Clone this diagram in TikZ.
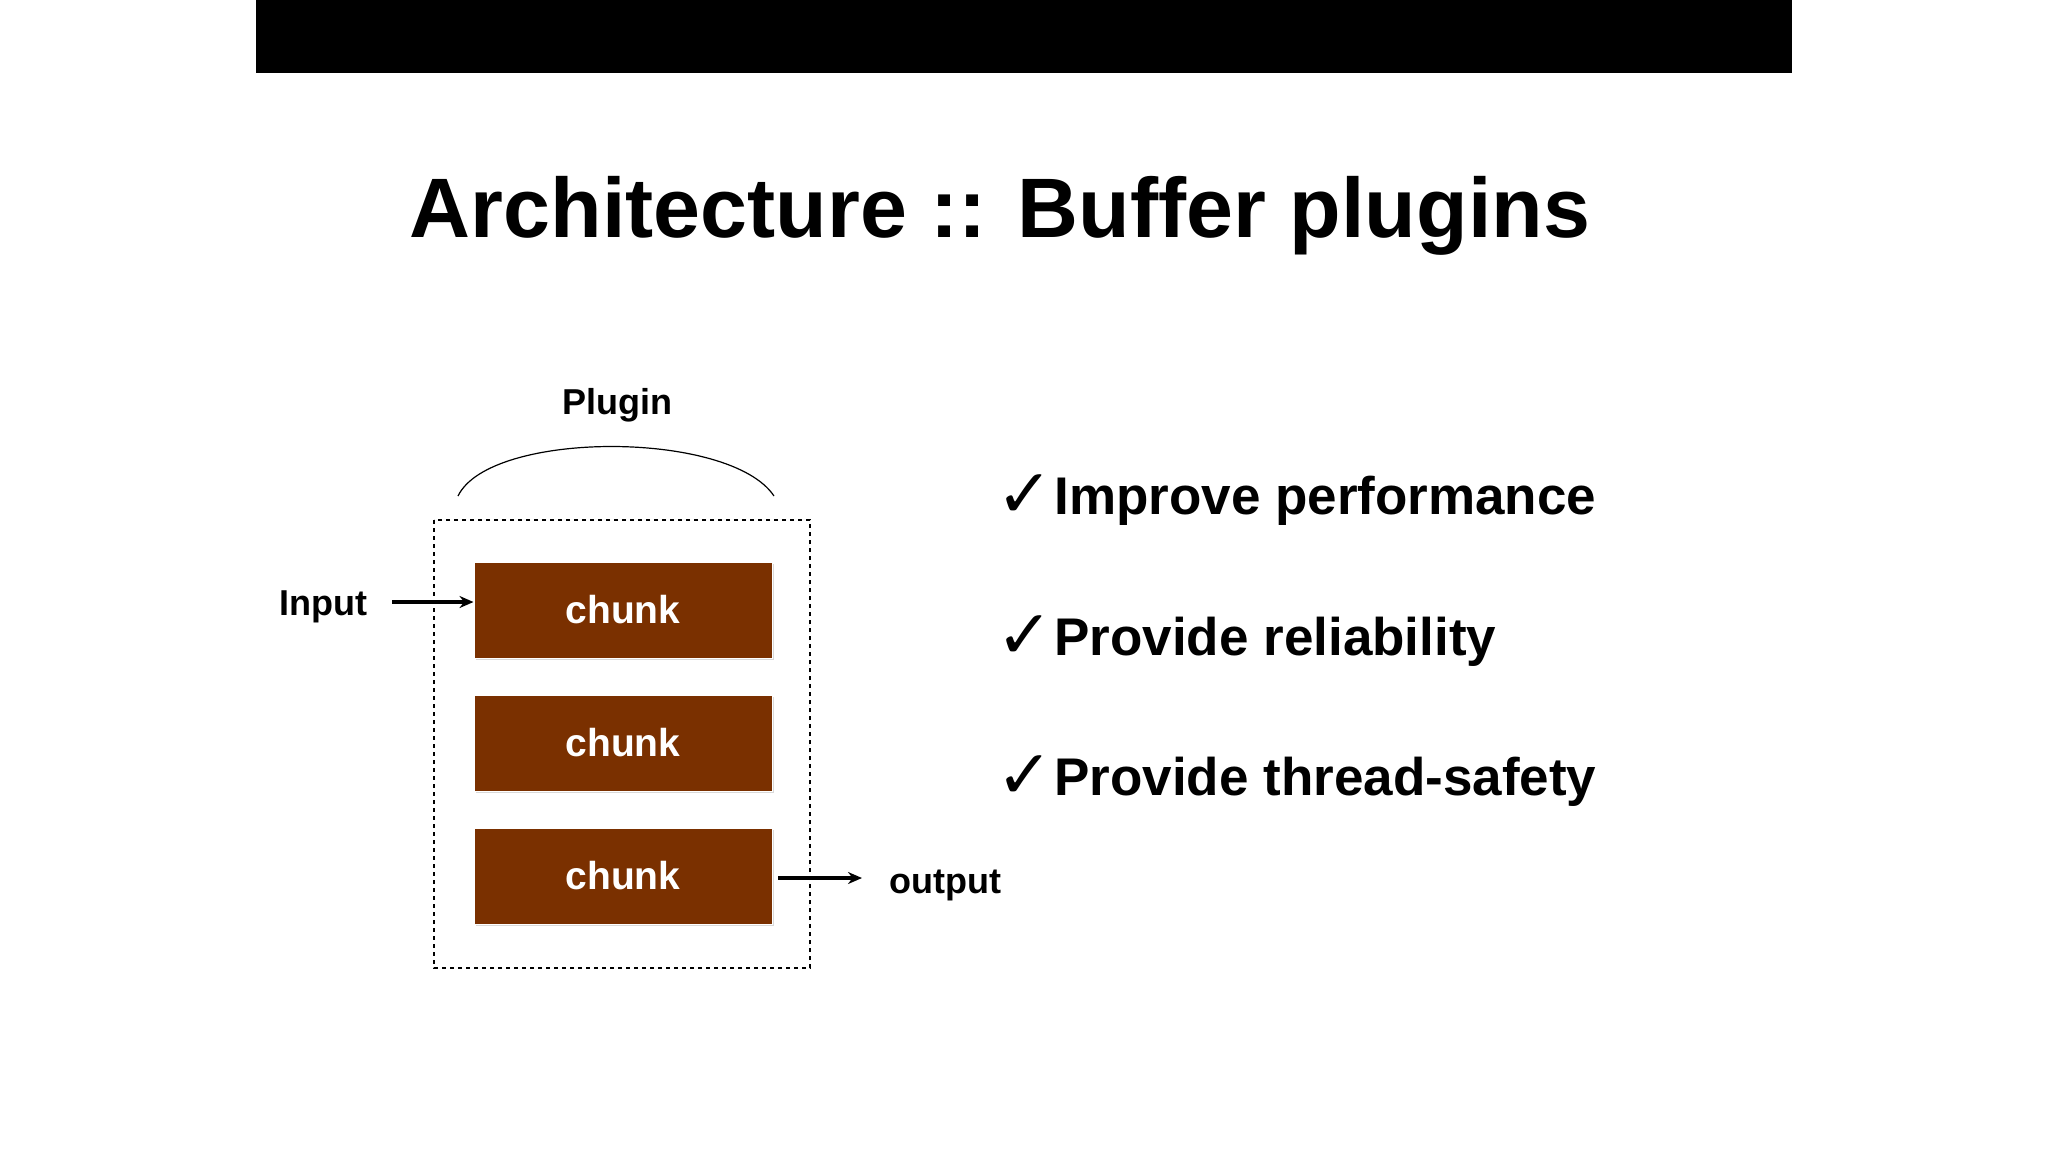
\documentclass[tikz,border=0pt]{standalone}
\usepackage{fontspec}
\setmainfont{Liberation Sans}
\newfontfamily\dvs{DejaVu Sans}
\usetikzlibrary{shadows,arrows.meta}
\definecolor{chunkc}{HTML}{7A3000}
\begin{document}
\begin{tikzpicture}[x=0.5pt,y=-0.5pt,
  chunk/.style={draw=white,line width=0.5pt,fill=chunkc,minimum width=149pt,minimum height=48pt,inner sep=0pt,text=white,font=\bfseries\fontsize{19.5}{22}\selectfont,drop shadow={opacity=0.3,shadow xshift=0.8pt,shadow yshift=-1pt}},
  lbl/.style={font=\bfseries\fontsize{18}{21}\selectfont,inner sep=0pt},
  item/.style={font=\bfseries\fontsize{26.5}{30}\selectfont,anchor=west,inner sep=0pt},
  ck/.style={font=\dvs\bfseries\fontsize{34}{38}\selectfont,anchor=west,inner sep=0pt},
  arr/.style={-{Stealth[length=7pt,width=6pt]},line width=1.6pt}]
\useasboundingbox (0,0) rectangle (2048,1152);
\fill[black] (256,0) rectangle (1792,73);
\node[font=\bfseries\fontsize{42.2}{48}\selectfont] (title) at (1000,216) {Architecture :: Buffer plugins};
\draw[dashed,line width=0.9pt,dash pattern=on 2pt off 2pt] (434,520) rectangle (810,968);
\node[lbl] (plugin) at (617,405) {Plugin};
\coordinate (a1) at (458,496);
\coordinate (a2) at (774,496);
\draw[line width=0.6pt] (a1) .. controls (490,430) and (730,430) .. (a2);
\node[chunk] (c1) at (623,610) {chunk};
\node[chunk] (c2) at (623,743) {chunk};
\node[chunk] (c3) at (623,876) {chunk};
\node[lbl,anchor=east] (in) at (368,607) {Input};
\coordinate (i1) at (392,602);
\draw[arr] (i1) -- (c1.west|-i1);
\node[lbl,anchor=west] (out) at (889,885) {output};
\coordinate (o1) at (778,878);
\coordinate (o2) at (862,878);
\draw[arr] (o1) -- (o2);
\node[ck] (k1) at (996,496) {✓};
\node[item] (t1) at (1054,501) {Improve performance};
\node[ck] (k2) at (996,637) {✓};
\node[item] (t2) at (1054,642) {Provide reliability};
\node[ck] (k3) at (996,777) {✓};
\node[item] (t3) at (1054,782) {Provide thread-safety};
\end{tikzpicture}
\end{document}
